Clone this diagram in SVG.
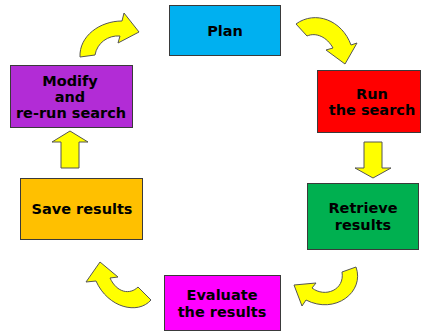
<svg xmlns="http://www.w3.org/2000/svg" width="421" height="331" viewBox="0 0 421 331">
<style>
.box{stroke:#3a3a3a;stroke-width:1}
.lbl{font-family:"DejaVu Sans","Verdana",sans-serif;font-weight:bold;font-size:14.5px;fill:#000;text-anchor:middle}
.arr{fill:#FFFF00;stroke:#555;stroke-width:1;stroke-linejoin:round}
</style>
<rect width="421" height="331" fill="#fff"/>
<g id="connectors">
<path class="arr" d="M80,57 C79,36 100,21 122,21 L124,13 L139,32 L118,43 L120,36 C108,35 97,43 95,55 Z"/>
<path class="arr" d="M296,24 C315,10 342,20 351,45 L357,43 L345,64 L326,50 L333,48 C327,37 316,32 307,36 Z"/>
<path class="arr" d="M364,142 L382,142 L382,168 L391,168 L373,178 L355,168 L364,168 Z"/>
<path class="arr" d="M356,267 C365,292 335,315 306,300 L302,306 L294,285 L316,283 L312,288 C325,298 345,290 342,272 Z"/>
<path class="arr" d="M151,300 C138,315 108,308 96,281 L86,282 L100,262 L118,277 L110,278 C117,293 130,295 138,287 Z"/>
<path class="arr" d="M61,168 L79,168 L79,142 L88,142 L70,131 L52,142 L61,142 Z"/>
</g>
<g id="plan">
<rect class="box" x="169.5" y="5.5" width="111" height="50" fill="#00B0F0"/>
<text class="lbl" x="225" y="36">Plan</text>
</g>
<g id="run">
<rect class="box" x="317.5" y="70.5" width="103" height="62" fill="#FF0000"/>
<text class="lbl" x="372" y="99">Run</text>
<text class="lbl" x="372" y="115">the search</text>
</g>
<g id="retrieve">
<rect class="box" x="307.5" y="183.5" width="111" height="66" fill="#00B050"/>
<text class="lbl" x="363" y="213">Retrieve</text>
<text class="lbl" x="363" y="230">results</text>
</g>
<g id="evaluate">
<rect class="box" x="164.5" y="275.5" width="116" height="55" fill="#FF00FF"/>
<text class="lbl" x="222" y="300">Evaluate</text>
<text class="lbl" x="222" y="317">the results</text>
</g>
<g id="save">
<rect class="box" x="20.5" y="178.5" width="122" height="61" fill="#FFC000"/>
<text class="lbl" x="82" y="214">Save results</text>
</g>
<g id="modify">
<rect class="box" x="10.5" y="65.5" width="122" height="62" fill="#B22CD6"/>
<text class="lbl" x="70" y="86">Modify</text>
<text class="lbl" x="70" y="102">and</text>
<text class="lbl" x="71" y="118">re-run search</text>
</g>
</svg>
